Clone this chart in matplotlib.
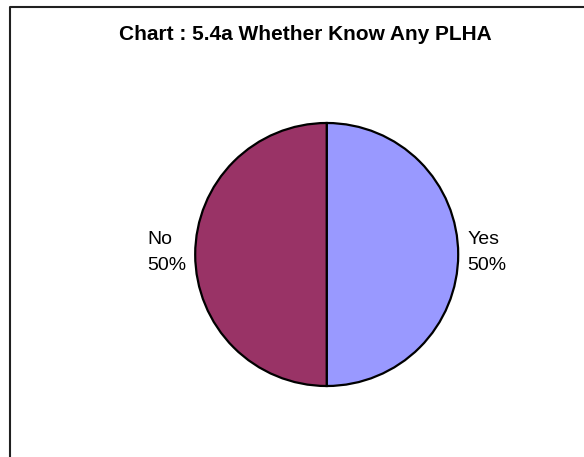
import matplotlib
matplotlib.use("Agg")
import matplotlib.pyplot as plt
from matplotlib.lines import Line2D

# данные диаграммы
categories = ["Yes", "No"]
values = [50, 50]
colors = ["#9999FF", "#993366"]
title = "Chart : 5.4a Whether Know Any PLHA"

W, H = 584, 457
fig = plt.figure(figsize=(W / 100, H / 100), dpi=100)

# центр и радиус круга в пикселях
cx, cy, r = 326.7, 254.5, 131.5
ax = fig.add_axes([(cx - r) / W, (H - cy - r) / H, 2 * r / W, 2 * r / H])

total = sum(values)
labels = [f"{c}\n{round(v / total * 100)}%" for c, v in zip(categories, values)]

wedges, texts = ax.pie(values, labels=labels, colors=colors, startangle=90,
                       counterclock=False, labeldistance=1.068,
                       wedgeprops=dict(edgecolor="black", linewidth=1.6),
                       textprops=dict(fontsize=14, family="Liberation Sans",
                                      multialignment="left", linespacing=1.7))
for t in texts:
    x, y = t.get_position()
    t.set_position((x, y + 0.012))
ax.set_xlim(-1, 1)
ax.set_ylim(-1, 1)
ax.set_aspect("auto")
ax.axis("off")

fig.text(305 / W, 1 - 35 / H, title, ha="center", va="center",
         fontsize=15, fontweight="bold", family="Liberation Sans")

# рамка (видны только верхняя и левая стороны)
fig.add_artist(Line2D([10 / W, 10 / W, 1.0], [0.0, 1 - 6.5 / H, 1 - 6.5 / H],
                      transform=fig.transFigure, color="#202020", linewidth=1.5))

fig.savefig("out.png", dpi=100)
